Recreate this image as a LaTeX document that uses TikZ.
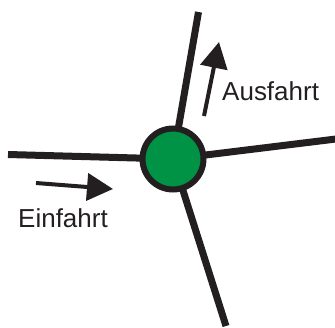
\documentclass[tikz,border=0pt]{standalone}
\usepackage{fontspec}
\setmainfont{Liberation Sans}
\usetikzlibrary{arrows.meta,backgrounds}
\definecolor{roadblack}{RGB}{35,31,32}
\definecolor{islandgreen}{RGB}{0,146,69}

\begin{document}
\begin{tikzpicture}[x=1pt,y=-1pt,>={Triangle[length=26pt,width=27pt]},
  road/.style={draw=roadblack,line width=7pt},
  dir/.style={->,draw=roadblack,fill=roadblack,line width=4pt},
  lbl/.style={inner sep=0pt,anchor=base west,text=roadblack,font=\fontsize{26}{30}\selectfont}]
  \useasboundingbox (0,0) rectangle (335,327);
  \node[circle,draw=roadblack,fill=islandgreen,line width=6pt,minimum size=61pt,inner sep=0pt] (rb) at (173,159) {};
  \coordinate (w) at (8,154.5);
  \coordinate (n) at (198.5,12);
  \coordinate (e) at (336,139);
  \coordinate (s) at (226,326);
  \begin{scope}[on background layer]
    \draw[road] (w) -- (rb.center);
    \draw[road] (n) -- (rb.center);
    \draw[road] (e) -- (rb.center);
    \draw[road] (s) -- (rb.center);
  \end{scope}
  \coordinate (in1) at (36,183);
  \coordinate (in2) at (113,189);
  \coordinate (out1) at (204,116);
  \coordinate (out2) at (219,42);
  \draw[dir] (in1) -- (in2);
  \draw[dir] (out1) -- (out2);
  \node[lbl] (ein) at (18,227) {Einfahrt};
  \node[lbl] (aus) at (222,100) {Ausfahrt};
\end{tikzpicture}
\end{document}
